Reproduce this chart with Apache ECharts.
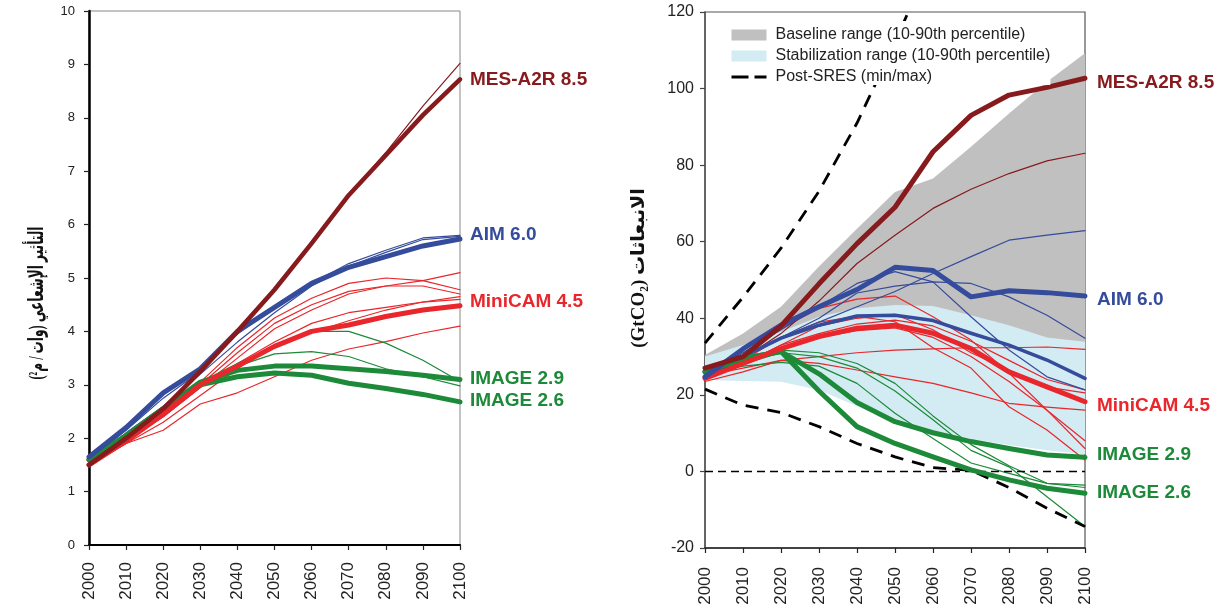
<!DOCTYPE html>
<html><head><meta charset="utf-8">
<script src="https://cdn.jsdelivr.net/npm/echarts@6/dist/echarts.min.js"></script>
<style>html,body{margin:0;padding:0;background:#fff}#c{width:1223px;height:611px}</style>
</head><body><div id="c"></div><script>
// ---------- shared ----------
const years = [2000, 2010, 2020, 2030, 2040, 2050, 2060, 2070, 2080, 2090, 2100];

// ---------- left panel: radiative forcing (W/m2) ----------
const mesThickL   = [1.5, 2.0, 2.55, 3.25, 4.0, 4.78, 5.65, 6.55, 7.3, 8.05, 8.72];
const mesThinL    = [1.5, 2.0, 2.55, 3.25, 4.0, 4.78, 5.65, 6.55, 7.35, 8.22, 9.02];
const aimThickL   = [1.65, 2.2, 2.85, 3.3, 4.0, 4.45, 4.9, 5.2, 5.4, 5.6, 5.73];
const aimThin1L   = [1.6, 2.15, 2.75, 3.25, 3.95, 4.45, 4.9, 5.27, 5.52, 5.75, 5.8];
const aimThin2L   = [1.55, 2.1, 2.6, 3.2, 3.8, 4.35, 4.85, 5.22, 5.48, 5.72, 5.78];
const miniThickL  = [1.5, 1.95, 2.45, 3.0, 3.35, 3.72, 4.0, 4.12, 4.28, 4.4, 4.48];
const redThin1L   = [1.5, 2.0, 2.5, 3.05, 3.7, 4.25, 4.62, 4.9, 5.0, 4.95, 4.78];
const redThin2L   = [1.5, 1.95, 2.45, 3.0, 3.6, 4.15, 4.5, 4.75, 4.85, 4.95, 5.1];
const redThin3L   = [1.5, 1.95, 2.4, 2.95, 3.5, 4.05, 4.4, 4.7, 4.85, 4.85, 4.7];
const redThin4L   = [1.5, 1.95, 2.4, 2.95, 3.4, 3.8, 4.15, 4.35, 4.45, 4.55, 4.65];
const redThin5L   = [1.5, 1.9, 2.15, 2.64, 2.85, 3.15, 3.46, 3.67, 3.81, 3.97, 4.1];
const redThin6L   = [1.5, 1.9, 2.3, 2.8, 3.3, 3.75, 3.98, 4.2, 4.4, 4.55, 4.6];
const img29L      = [1.6, 2.05, 2.55, 3.05, 3.27, 3.35, 3.35, 3.3, 3.25, 3.18, 3.1];
const img26L      = [1.6, 2.05, 2.55, 3.0, 3.15, 3.22, 3.18, 3.03, 2.93, 2.82, 2.68];
const greenThin1L = [1.6, 2.05, 2.55, 3.05, 3.4, 3.7, 4.0, 4.0, 3.78, 3.46, 3.06];
const greenThin2L = [1.6, 2.05, 2.55, 3.05, 3.35, 3.58, 3.62, 3.53, 3.3, 3.15, 2.98];

// ---------- right panel: emissions (GtCO2) ----------
const grayUpper   = [30.4, 36, 43, 53.5, 63.4, 73, 76.5, 84.8, 93.5, 101.8, 109.2];
const grayLower   = [25, 28, 31, 34, 36, 38, 38, 37, 35, 33, 33];
const blueUpper   = [30, 33, 36.5, 40.4, 42.6, 43.5, 43.2, 40.8, 38.2, 35, 33.9];
const blueLower   = [23.9, 23.6, 23.4, 21.3, 17, 13, 10.4, 8.5, 6.9, 5.5, 4.5];
const sresMax     = [33.5, 45.5, 58.3, 73.2, 91, 112, 135];
const sresMin     = [21.5, 17.3, 15.4, 11.7, 7.3, 3.8, 1.0, 0.3, -4.2, -9.6, -14.4];
const zeroLine    = [0, 0, 0, 0, 0, 0, 0, 0, 0, 0, 0];
const mesThickR   = [27, 30, 38, 49, 59.5, 69, 83.5, 93, 98.3, 100.3, 102.7];
const mesThinR    = [27, 29.5, 36, 44.5, 54.3, 61.7, 68.7, 73.7, 77.8, 81.1, 83.1];
const aimThickR   = [24.7, 32, 38.2, 43, 47.5, 53.3, 52.5, 45.6, 47.2, 46.7, 45.8];
const aimMidR     = [24.5, 30, 34.8, 38.2, 40.6, 40.8, 39.4, 36.1, 33, 29.1, 24.3];
const aimThin1R   = [25, 30, 35, 39, 43, 47, 51.7, 56.1, 60.4, 61.7, 62.9];
const aimThin2R   = [25, 31, 37, 43, 49.1, 52.2, 49.5, 40.4, 31.7, 24.7, 21.3];
const aimThin3R   = [25, 30, 35, 40, 46.6, 48.4, 49.5, 49.1, 45.6, 40.8, 34.8];
const miniThickR  = [24.3, 28.2, 32.1, 35.2, 37.4, 38.2, 36.1, 32.1, 26, 22.1, 18.2];
const redThin1R   = [24, 30, 37.3, 42.6, 45, 45.8, 40.4, 34.3, 25.7, 16, 6];
const redThin2R   = [25, 27, 29, 30, 31, 31.7, 32, 32.3, 32.3, 32.5, 31.9];
const redThin3R   = [24, 28, 33, 38, 40, 41, 37, 31, 26.5, 22, 20.5];
const redThin4R   = [23.5, 26, 29, 28.2, 26.5, 24.7, 23, 20.5, 17.8, 16.8, 16];
const redThin5R   = [24, 29, 35, 39, 40.5, 39.1, 32.3, 27, 16.9, 10.8, 3];
const redThin6R   = [24, 28, 33, 36, 38.5, 39.5, 38, 34, 29, 24, 21.3];
const redThin7R   = [25, 28, 32, 35, 36.8, 37.5, 35, 30, 23.5, 16, 8];
const img29R      = [26, 29.5, 31.3, 25.5, 18, 13, 10.1, 7.8, 6, 4.3, 3.7];
const img26R      = [26, 29.5, 31.3, 21, 11.7, 7.3, 3.8, 0.4, -2.2, -4.4, -5.7];
const greenThin1R = [26, 28, 31.7, 31, 28.2, 23, 14.5, 7, 1.5, -3.1, -3.6];
const greenThin2R = [26, 27.5, 28.5, 27.5, 23, 15.2, 8.6, 2.2, -0.5, -3.1, -4.2];
const greenThin3R = [26, 28, 31, 30, 27, 21, 13.5, 5.5, 1.2, -6.6, -14.4];

// ---------- labels ----------
const scenarioNames = ['MES-A2R 8.5', 'AIM 6.0', 'MiniCAM 4.5', 'IMAGE 2.9', 'IMAGE 2.6'];
const leftAxisTitle = 'التأثير الإشعاعي (وات / م²)';
const rightAxisTitle = 'الانبعاثات (GtCO₂)';
const legendNames = ['Baseline range (10-90th percentile)', 'Stabilization range (10-90th percentile)', 'Post-SRES (min/max)'];

// ---------- styling ----------
const C = { dred: '#871A1D', blue: '#354B9C', red: '#E8262B', green: '#1C8A38', gray: '#C0C0C0', lblue: '#D3EBF2' };
const FONT = "'Liberation Sans', Arial, sans-serif";

function pts(arr) { return arr.map((v, i) => [years[i], v]); }
function line(arr, color, width, side, extra) {
  return Object.assign({
    type: 'line', data: pts(arr), xAxisIndex: side, yAxisIndex: side,
    symbol: 'none', silent: true, animation: false,
    lineStyle: { color: color, width: width, cap: 'round', join: 'round' }
  }, extra || {});
}
function band(lower, upper, color, name) {
  return {
    type: 'custom', name: name, xAxisIndex: 1, yAxisIndex: 1, silent: true, animation: false,
    data: years.map((y, i) => [y, lower[i], upper[i]]),
    encode: { x: 0, y: [1, 2] },
    itemStyle: { color: color },
    renderItem: function (params, api) {
      if (params.dataIndex !== 0) return null;
      const top = years.map((y, i) => api.coord([y, upper[i]]));
      const bot = years.map((y, i) => api.coord([y, lower[i]])).reverse();
      return { type: 'polygon', shape: { points: top.concat(bot) }, style: { fill: color } };
    }
  };
}

const THIN = 1.2, THICK = 5;
const DASH = [13, 9];
const series = [
  // left thin
  line(redThin1L, C.red, THIN, 0), line(redThin2L, C.red, THIN, 0), line(redThin3L, C.red, THIN, 0),
  line(redThin4L, C.red, THIN, 0), line(redThin5L, C.red, THIN, 0), line(redThin6L, C.red, THIN, 0),
  line(greenThin1L, C.green, THIN, 0), line(greenThin2L, C.green, THIN, 0),
  line(aimThin1L, C.blue, THIN, 0), line(aimThin2L, C.blue, THIN, 0),
  line(mesThinL, C.dred, THIN, 0),
  // left thick
  line(img26L, C.green, THICK, 0), line(img29L, C.green, THICK, 0),
  line(miniThickL, C.red, THICK, 0), line(aimThickL, C.blue, THICK, 0), line(mesThickL, C.dred, 4.5, 0),
  // right bands
  band(grayLower, grayUpper, C.gray, legendNames[0]),
  band(blueLower, blueUpper, C.lblue, legendNames[1]),
  // right thin
  line(redThin1R, C.red, THIN, 1), line(redThin2R, C.red, THIN, 1), line(redThin3R, C.red, THIN, 1),
  line(redThin4R, C.red, THIN, 1), line(redThin5R, C.red, THIN, 1), line(redThin6R, C.red, THIN, 1),
  line(redThin7R, C.red, THIN, 1),
  line(greenThin1R, C.green, THIN, 1), line(greenThin2R, C.green, THIN, 1), line(greenThin3R, C.green, THIN, 1),
  line(aimThin1R, C.blue, THIN, 1), line(aimThin2R, C.blue, THIN, 1), line(aimThin3R, C.blue, THIN, 1),
  line(mesThinR, C.dred, THIN, 1),
  // right dashed
  line(zeroLine, '#000', 1.5, 1, { lineStyle: { color: '#000', width: 1.5, type: [8, 5] } }),
  line(sresMax, '#000', 2.8, 1, { name: legendNames[2], itemStyle: { color: '#000' }, lineStyle: { color: '#000', width: 2.8, type: DASH } }),
  line(sresMin, '#000', 2.8, 1, { name: legendNames[2], itemStyle: { color: '#000' }, lineStyle: { color: '#000', width: 2.8, type: DASH } }),
  // right thick
  line(aimMidR, C.blue, 3.5, 1),
  line(img26R, C.green, THICK, 1), line(img29R, C.green, THICK, 1),
  line(miniThickR, C.red, THICK, 1), line(aimThickR, C.blue, THICK, 1), line(mesThickR, C.dred, THICK, 1)
];

const labelColors = [C.dred, C.blue, C.red, C.green, C.green];
const leftLabelY = [80, 235, 301.5, 378.5, 400.5];
const rightLabelY = [82.5, 300, 405.5, 455, 492.5];
const graphics = [];
scenarioNames.forEach((n, i) => {
  graphics.push({ type: 'text', x: 470, y: leftLabelY[i], silent: true,
    style: { text: n, fill: labelColors[i], font: 'bold 19px ' + FONT, align: 'left', verticalAlign: 'middle' } });
  graphics.push({ type: 'text', x: 1097, y: rightLabelY[i], silent: true,
    style: { text: n, fill: labelColors[i], font: 'bold 19px ' + FONT, align: 'left', verticalAlign: 'middle' } });
});
graphics.push({ type: 'text', x: 38, y: 303, rotation: Math.PI / 2, scaleX: 0.58, silent: true,
  style: { text: '\u202B' + leftAxisTitle + '\u202C', fill: '#111', font: "bold 21px 'Liberation Serif', 'DejaVu Sans', serif", align: 'center', verticalAlign: 'middle' } });
graphics.push({ type: 'text', x: 639, y: 268, rotation: Math.PI / 2, silent: true,
  style: { text: '\u202B' + rightAxisTitle + '\u202C', fill: '#111', font: "bold 19px 'Liberation Serif', 'DejaVu Sans', serif", align: 'center', verticalAlign: 'middle' } });

function xAx(idx, lineColor, lineW, margin) {
  return { type: 'value', gridIndex: idx, min: 2000, max: 2100, interval: 10,
    axisLine: { show: true, onZero: false, lineStyle: { color: lineColor, width: lineW } },
    axisTick: { show: true, length: 5, inside: false, lineStyle: { color: '#222', width: 1.2 } },
    axisLabel: { rotate: 90, margin: margin, fontSize: 17, color: '#222', fontFamily: FONT, formatter: v => String(v) },
    splitLine: { show: false } };
}

const option = {
  backgroundColor: '#fff',
  animation: false,
  textStyle: { fontFamily: FONT },
  grid: [
    { left: 89, right: 763, top: 11, bottom: 66, show: true, borderColor: '#888', borderWidth: 1 },
    { left: 705, right: 138, top: 12, bottom: 63, show: true, borderColor: '#555', borderWidth: 1.2 }
  ],
  xAxis: [ xAx(0, '#000', 2.2, 17), xAx(1, '#222', 1.5, 19) ],
  yAxis: [
    { type: 'value', gridIndex: 0, min: 0, max: 10, interval: 1,
      axisLine: { show: true, onZero: false, lineStyle: { color: '#000', width: 2.5 } },
      axisTick: { show: true, length: 5, lineStyle: { color: '#222', width: 1.2 } },
      axisLabel: { margin: 14, fontSize: 13, color: '#222' }, splitLine: { show: false } },
    { type: 'value', gridIndex: 1, min: -20, max: 120, interval: 20,
      axisLine: { show: true, onZero: false, lineStyle: { color: '#555', width: 1.5 } },
      axisTick: { show: true, length: 5, lineStyle: { color: '#444', width: 1.2 } },
      axisLabel: { margin: 11, fontSize: 16, color: '#222' }, splitLine: { show: false } }
  ],
  legend: {
    data: [
      { name: legendNames[0], icon: 'rect', itemStyle: { color: C.gray } },
      { name: legendNames[1], icon: 'rect', itemStyle: { color: C.lblue } },
      { name: legendNames[2], itemStyle: { opacity: 0 }, lineStyle: { color: '#000', width: 3, type: [17, 6], opacity: 1 } }
    ],
    left: 722, top: 21, orient: 'vertical', itemWidth: 35, itemHeight: 11, itemGap: 5,
    backgroundColor: '#fff', padding: [6, 0, 0, 8], selectedMode: false,
    textStyle: { fontSize: 16, color: '#222', fontFamily: FONT, padding: [0, 0, 0, 4] }
  },
  series: series,
  graphic: graphics
};
const chart = echarts.init(document.getElementById('c'), null, { renderer: 'canvas' });
chart.setOption(option);
</script></body></html>
